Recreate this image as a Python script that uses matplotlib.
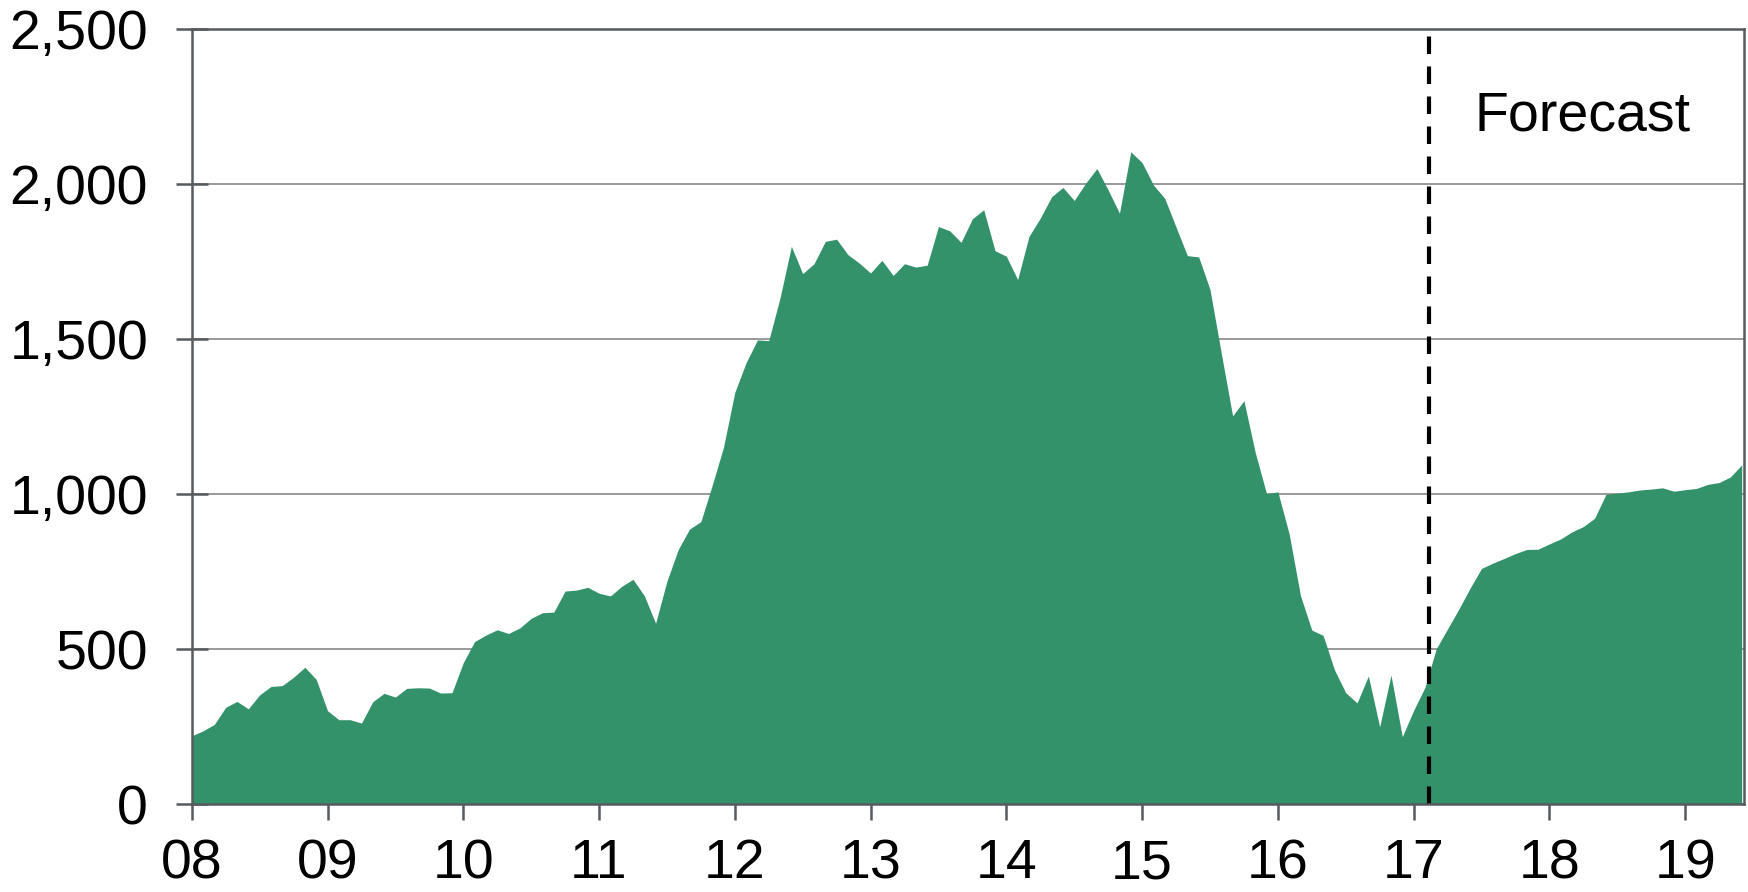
# Area chart: monthly series 2008-2019 with a forecast marker

import matplotlib.pyplot as plt

plt.rcParams['font.family'] = ['Liberation Sans', 'DejaVu Sans']

# monthly values, Jan 2008 .. Jun 2019
values = [
    221, 237, 258, 313, 332, 308, 353, 380, 383, 410, 442, 403,
    302, 273, 273, 262, 331, 358, 346, 374, 376, 375, 359, 360,
    457, 525, 546, 563, 551, 569, 600, 618, 620, 688, 691, 700,
    681, 672, 703, 726, 673, 584, 720, 822, 888, 912, 1029, 1152,
    1329, 1425, 1498, 1496, 1634, 1800, 1712, 1744, 1816, 1823, 1773, 1746,
    1714, 1755, 1706, 1744, 1733, 1739, 1864, 1850, 1813, 1889, 1918, 1786,
    1768, 1693, 1832, 1891, 1960, 1990, 1948, 2003, 2051, 1982, 1907, 2105,
    2070, 1998, 1955, 1862, 1770, 1766, 1661, 1455, 1253, 1302, 1135, 1002,
    1008, 872, 673, 562, 545, 434, 360, 327, 414, 250, 417, 218,
    303, 377, 502, 566, 630, 698, 761, 778, 793, 809, 822, 823,
    840, 856, 879, 896, 923, 1000, 1004, 1008, 1014, 1017, 1021, 1010,
    1015, 1019, 1032, 1038, 1056, 1095,
]
months = list(range(len(values)))

year_labels = ['08', '09', '10', '11', '12', '13', '14', '15', '16', '17', '18', '19']
year_ticks = [12 * i for i in range(len(year_labels))]
y_ticks = [0, 500, 1000, 1500, 2000, 2500]

forecast_start = 109.4   # months since Jan 2008
forecast_label = 'Forecast'

green = '#34926B'
frame = '#555A5F'

fig = plt.figure(figsize=(17.48, 8.92), dpi=100)
ax = fig.add_axes([0.1097, 0.0983, 0.888, 0.8688])

ax.fill_between(months, values, 0, color=green, linewidth=0, zorder=2)

# dashed line where the forecast begins
ax.axvline(forecast_start, color='black', linewidth=3.0, dashes=(4.2, 3.0), zorder=3)
ax.text(forecast_start + 4.0, 2175, forecast_label, fontsize=40, ha='left', va='baseline')

ax.set_xlim(0, 137.2)
ax.set_ylim(0, 2500)
ax.set_xticks(year_ticks)
ax.set_xticklabels(year_labels)
ax.set_yticks(y_ticks)
ax.set_yticklabels([f'{v:,}' for v in y_ticks])

ax.yaxis.grid(True, color='#9A9A9A', linewidth=1.4, zorder=1)
ax.set_axisbelow(True)

for side in ['left', 'right', 'top', 'bottom']:
    ax.spines[side].set_color(frame)
    ax.spines[side].set_linewidth(1.8)
    ax.spines[side].set_zorder(4)

ax.tick_params(axis='y', direction='inout', length=23, width=1.8, color=frame,
               labelsize=40, pad=20)
ax.tick_params(axis='x', direction='out', length=11.5, width=1.8, color=frame,
               labelsize=40, pad=13)

fig.savefig('out.png', dpi=100)
